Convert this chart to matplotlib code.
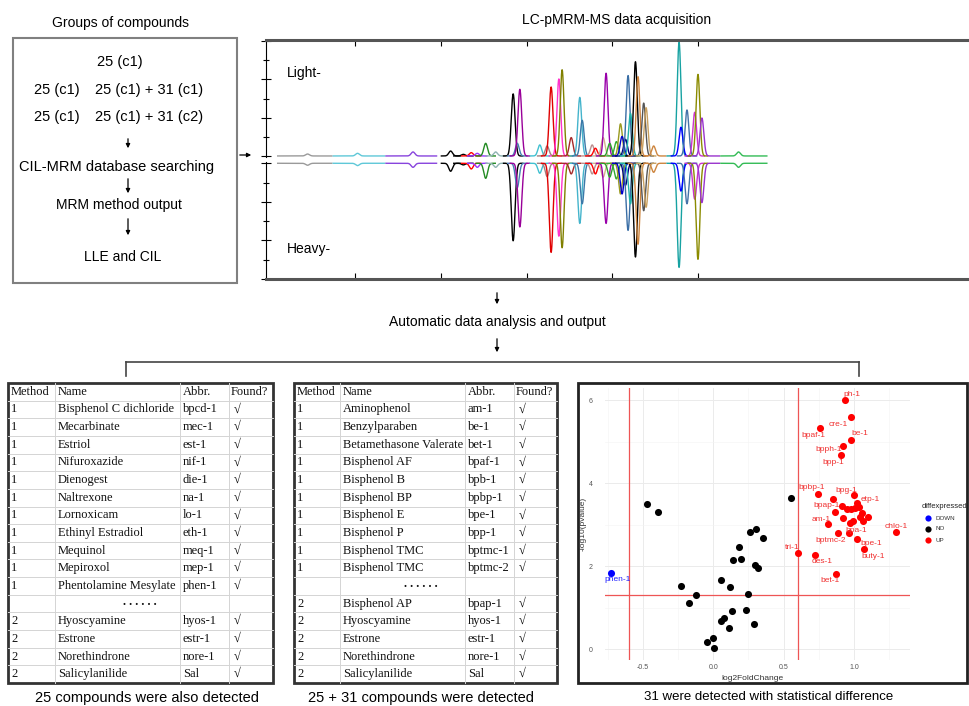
import numpy as np
import matplotlib.pyplot as plt
from matplotlib.patches import Rectangle
from matplotlib.transforms import Bbox, TransformedBbox

W, H = 969, 706

# ---- chromatogram peaks (retention time, light / heavy height) ----
peak_rt = [2.25, 5.16, 8.39, 10.58, 11.32, 11.78, 12.13, 12.62, 13.20, 14.22, 14.46, 14.61,
           15.77, 16.20, 16.43, 16.88, 17.07, 17.60, 18.10, 18.24, 18.82, 19.01, 19.46, 19.63,
           19.84, 20.23, 20.47, 20.56, 20.76, 20.91, 21.05, 21.34, 21.49, 21.82, 21.96, 22.40,
           23.88, 23.99, 24.34, 24.79, 24.98, 25.21, 27.34]
light_h = [0.017, 0.023, 0.035, 0.043, 0.014, 0.029, 0.023, 0.11, 0.035, 0.54, 0.11, 0.58,
           0.096, 0.087, 0.60, 0.67, 0.75, 0.16, 0.51, 0.31, 0.096, 0.067, 0.16, 0.72,
           0.11, 0.125, 0.28, 0.17, 0.145, 0.70, 0.37, 0.82, 0.69, 0.46, 0.42, 0.087,
           0.99, 0.25, 0.40, 0.38, 0.71, 0.33, 0.035]
heavy_h = [0.017, 0.02, 0.035, 0.069, 0.014, 0.049, 0.035, 0.13, 0.035, 0.67, 0.21, 0.55,
           0.086, 0.115, 0.77, 0.63, 0.73, 0.092, 0.52, 0.35, 0.092, 0.092, 0.12, 0.52,
           0.12, 0.135, 0.265, 0.265, 0.19, 0.58, 0.35, 0.81, 0.70, 0.41, 0.38, 0.078,
           0.90, 0.24, 0.35, 0.31, 0.83, 0.34, 0.035]
peak_col = ["#9a9a9a", "#5fc8d8", "#8844dd", "black", "black", "red", "#9933ff", "#228b22",
            "#8fb3b3", "black", "#4682b4", "#990099", "#40c0d0", "#a08080", "#e00000", "#ff33cc",
            "#808000", "#a52a2a", "#44b4cc", "#3a78a8", "#bc8f8f", "red", "#d2b48c", "#9900aa",
            "#2ca02c", "#33aa33", "#9a9a20", "#0000cc", "#000080", "#3a6ea5", "#20b2aa", "black",
            "#cd853f", "#555555", "#c8a060", "#cd853f", "#17a2a2", "#0000ff", "#4472a8", "#cc33cc",
            "#8b8b00", "#9933cc", "#33bb55"]
rt_start, rt_end = 0.47, 29.03

# ---- tables ----
header = ["Method", "Name", "Abbr.", "Found?"]
t1_method = ["1"] * 11 + [""] + ["2"] * 4
t1_names = ["Bisphenol C dichloride", "Mecarbinate", "Estriol", "Nifuroxazide", "Dienogest",
            "Naltrexone", "Lornoxicam", "Ethinyl Estradiol", "Mequinol", "Mepiroxol",
            "Phentolamine Mesylate", "", "Hyoscyamine", "Estrone", "Norethindrone", "Salicylanilide"]
t1_abbr = ["bpcd-1", "mec-1", "est-1", "nif-1", "die-1", "na-1", "lo-1", "eth-1", "meq-1",
           "mep-1", "phen-1", "", "hyos-1", "estr-1", "nore-1", "Sal"]
t2_method = ["1"] * 10 + [""] + ["2"] * 5
t2_names = ["Aminophenol", "Benzylparaben", "Betamethasone Valerate", "Bisphenol AF", "Bisphenol B",
            "Bisphenol BP", "Bisphenol E", "Bisphenol P", "Bisphenol TMC", "Bisphenol TMC", "",
            "Bisphenol AP", "Hyoscyamine", "Estrone", "Norethindrone", "Salicylanilide"]
t2_abbr = ["am-1", "be-1", "bet-1", "bpaf-1", "bpb-1", "bpbp-1", "bpe-1", "bpp-1", "bptmc-1",
           "bptmc-2", "", "bpap-1", "hyos-1", "estr-1", "nore-1", "Sal"]

# ---- volcano plot ----
no_fc = [-0.47, -0.39, -0.23, -0.12, -0.17, 0.055, 0.116, 0.14, 0.18, 0.20, 0.263, 0.30, 0.355,
         0.296, 0.32, 0.246, 0.55, 0.073, 0.055, 0.133, 0.111, 0.235, 0.287, -0.045, -0.002, 0.002]
no_p = [3.49, 3.30, 1.51, 1.29, 1.10, 1.67, 1.49, 2.14, 2.45, 2.18, 2.81, 2.88, 2.67,
        2.02, 1.96, 1.33, 3.65, 0.755, 0.68, 0.91, 0.50, 0.93, 0.61, 0.17, 0.26, 0.03]
down_fc = [-0.73]
down_p = [1.84]
down_lab = ["phen-1"]
up_fc = [0.938, 0.976, 0.758, 0.976, 0.924, 0.905, 0.746, 1.002, 0.853, 1.023, 0.913,
         0.948, 0.977, 1.007, 1.038, 0.865, 1.057, 1.043, 1.102, 1.066, 0.924, 0.972, 0.995,
         0.815, 0.967, 0.888, 1.019, 1.071, 1.30, 0.60, 0.723, 0.87]
up_p = [6.0, 5.58, 5.32, 5.04, 4.90, 4.67, 3.73, 3.70, 3.61, 3.53, 3.45,
        3.37, 3.37, 3.39, 3.43, 3.29, 3.27, 3.17, 3.19, 3.09, 3.16, 3.04, 3.09,
        3.01, 2.80, 2.79, 2.65, 2.40, 2.81, 2.31, 2.27, 1.81]
up_lab = ["ph-1", "cre-1", "bpaf-1", "be-1", "bpph-1", "bpp-1", "bpbp-1", "bpg-1", "", "etp-1", "bpap-1",
          "", "", "", "", "", "", "", "", "", "", "", "",
          "am-1", "bpa-1", "bptmc-2", "bpe-1", "buty-1", "chlo-1", "tri-1", "des-1", "bet-1"]
# label offsets in pixels (right, down) so the text sits like the repelled labels
lab_off = {"ph-1": (7, -6), "cre-1": (-12, 7), "bpaf-1": (-7, 7), "be-1": (9, -6),
           "bpph-1": (-15, 4), "bpp-1": (-7, 7), "bpbp-1": (-7, -7), "bpg-1": (-8, -5),
           "etp-1": (13, -3), "bpap-1": (-15, 0), "am-1": (-7, -5), "bpa-1": (7, -2),
           "bptmc-2": (-8, 7), "bpe-1": (15, 4), "buty-1": (9, 7), "chlo-1": (0, -6),
           "tri-1": (-6, -6), "des-1": (7, 7), "bet-1": (-6, 7), "phen-1": (7, 7)}

plt.rcParams['font.family'] = ['Liberation Sans', 'DejaVu Sans']


def px_rect(x0, y0, x1, y1):
    return [x0 / W, 1 - y1 / H, (x1 - x0) / W, (y1 - y0) / H]


fig = plt.figure(figsize=(W / 100, H / 100), dpi=100)
ov = fig.add_axes([0, 0, 1, 1])
ov.set_xlim(0, W)
ov.set_ylim(H, 0)
ov.axis('off')


def arrow_down(x, y0, y1):
    ov.annotate("", xy=(x, y1), xytext=(x, y0),
                arrowprops=dict(arrowstyle="-|>", color="black", lw=0.9, mutation_scale=6))


# ---- top left: groups of compounds ----
ov.text(121, 23, "Groups of compounds", ha="center", va="center", fontsize=10)
ov.add_patch(Rectangle((13, 38), 224, 245, fill=False, ec="#808080", lw=1.5))
ov.text(120, 62, "25 (c1)", ha="center", va="center", fontsize=10.5)
ov.text(57, 90, "25 (c1)", ha="center", va="center", fontsize=10.5)
ov.text(149, 90, "25 (c1) + 31 (c1)", ha="center", va="center", fontsize=10.5)
ov.text(57, 117, "25 (c1)", ha="center", va="center", fontsize=10.5)
ov.text(149, 117, "25 (c1) + 31 (c2)", ha="center", va="center", fontsize=10.5)
arrow_down(128, 136, 151)
ov.text(117, 167, "CIL-MRM database searching", ha="center", va="center", fontsize=10.5)
arrow_down(128, 176, 196)
ov.text(119, 205, "MRM method output", ha="center", va="center", fontsize=10)
arrow_down(128, 216, 238)
ov.text(123, 257, "LLE and CIL", ha="center", va="center", fontsize=10)
ov.annotate("", xy=(254, 155), xytext=(237, 155),
            arrowprops=dict(arrowstyle="-|>", color="black", lw=0.9, mutation_scale=6))

# ---- chromatogram ----
ov.text(617, 20, "LC-pMRM-MS data acquisition", ha="center", va="center", fontsize=10)
ax_l = fig.add_axes(px_rect(266, 40, 969, 157))
ax_h = fig.add_axes(px_rect(266, 162, 969, 279))
edges = [rt_start] + [(a + b) / 2 for a, b in zip(peak_rt[:-1], peak_rt[1:])] + [rt_end]
for i, rt in enumerate(peak_rt):
    lo = max(rt_start, min(edges[i], rt - 0.6))
    hi = min(rt_end, max(edges[i + 1], rt + 0.6))
    if i == 2:
        hi = 9.8
    if i == 3:
        lo = 10.0
    x = np.linspace(lo, hi, 300)
    g = np.exp(-0.5 * ((x - rt) / 0.11) ** 2)
    ax_l.plot(x, light_h[i] * g, color=peak_col[i], lw=1.0, solid_capstyle="butt")
    ax_h.plot(x, -heavy_h[i] * g, color=peak_col[i], lw=1.0, solid_capstyle="butt")

for ax in (ax_l, ax_h):
    ax.set_facecolor("none")
    ax.set_xlim(-0.17, 40.76)
    ax.spines["right"].set_visible(False)
    ax.spines["left"].set_linewidth(0.8)
    ax.set_xticks([5, 10, 15, 20, 25])
    ax.tick_params(axis="x", direction="in", length=4, width=0.8, labelbottom=False, labeltop=False)
    ax.tick_params(axis="y", which="major", direction="inout", length=7, width=0.8, labelleft=False)
    ax.tick_params(axis="y", which="minor", direction="inout", length=4, width=0.8)

ax_l.set_ylim(-0.009, 1.009)
ax_l.spines["bottom"].set_visible(False)
ax_l.spines["top"].set_linewidth(2.2)
ax_l.spines["top"].set_color("#555555")
ax_l.xaxis.tick_top()
ax_l.set_yticks([0, 1 / 3, 2 / 3, 1])
ax_l.set_yticks([1 / 6, 0.5, 5 / 6], minor=True)
ax_l.text(0.03, 0.72, "Light-", transform=ax_l.transAxes, fontsize=10, va="center")

ax_h.set_ylim(-1.0, 0.011)
ax_h.spines["top"].set_visible(False)
ax_h.spines["bottom"].set_linewidth(2.2)
ax_h.spines["bottom"].set_color("#555555")
ax_h.set_yticks([0, -1 / 3, -2 / 3, -1])
ax_h.set_yticks([-1 / 6, -0.5, -5 / 6], minor=True)
ax_h.text(0.03, 0.26, "Heavy-", transform=ax_h.transAxes, fontsize=10, va="center")

# ---- middle flow ----
arrow_down(497, 290, 307)
ov.text(497, 322, "Automatic data analysis and output", ha="center", va="center", fontsize=10)
arrow_down(497, 336, 355)
ov.plot([126, 859], [362, 362], color="#444444", lw=1.2)
ov.plot([126, 126], [362, 376], color="#444444", lw=1.2)
ov.plot([859, 859], [362, 376], color="#444444", lw=1.2)


# ---- tables ----
def draw_table(x0, x1, cols, methods, names, abbrs, dots_x):
    y0, y1 = 383, 683
    n = len(names) + 1
    rh = (y1 - y0) / n
    for k in range(1, n):
        ov.plot([x0, x1], [y0 + k * rh] * 2, color="#d4d4d4", lw=0.7)
    for c in cols:
        ov.plot([c, c], [y0, y1], color="#d4d4d4", lw=0.7)
    ov.add_patch(Rectangle((x0, y0), x1 - x0, y1 - y0, fill=False, ec="#333333", lw=2))
    xs = [x0 + 3, cols[0] + 3, cols[1] + 3, cols[2] + 2]
    tf = dict(family="Liberation Serif", fontsize=9, va="center", color="#111111")
    for j, h in enumerate(header):
        ov.text(xs[j], y0 + rh / 2, h, **tf)
    clip = TransformedBbox(Bbox.from_extents(cols[0], 0, cols[1] - 1, H), ov.transData)
    for r in range(len(names)):
        yc = y0 + (r + 1.5) * rh
        if names[r] == "":
            ov.text(dots_x, yc - 2, ". . . . . .", ha="center", fontweight="bold", **tf)
            continue
        ov.text(xs[0], yc, methods[r], **tf)
        t = ov.text(xs[1], yc, names[r], **tf)
        t.set_clip_box(clip)
        ov.text(xs[2], yc, abbrs[r], **tf)
        ov.text(cols[2] + 8, yc, "√", ha="center", fontweight="bold", **tf)


draw_table(8, 273, [55, 180, 229], t1_method, t1_names, t1_abbr, 140)
draw_table(294, 557, [340, 465, 514], t2_method, t2_names, t2_abbr, 421)
ov.text(147, 698, "25 compounds were also detected", ha="center", va="center", fontsize=10.5)
ov.text(421, 698, "25 + 31 compounds were detected", ha="center", va="center", fontsize=10.5)

# ---- volcano plot ----
ov.add_patch(Rectangle((578, 383), 389, 300, fill=False, ec="#222222", lw=2))
ax_v = fig.add_axes(px_rect(605, 388, 910, 660))
ax_v.set_facecolor("none")
ax_v.set_xlim(-0.77, 1.398)
ax_v.set_ylim(-0.265, 6.29)
for s in ax_v.spines.values():
    s.set_visible(False)
ax_v.set_xticks([-0.5, 0.0, 0.5, 1.0])
ax_v.set_xticklabels(["-0.5", "0.0", "0.5", "1.0"])
ax_v.set_xticks([-0.75, -0.25, 0.25, 0.75, 1.25], minor=True)
ax_v.set_yticks([0, 2, 4, 6])
ax_v.set_yticks([1, 3, 5], minor=True)
ax_v.grid(which="major", color="#ebebeb", lw=0.7)
ax_v.grid(which="minor", color="#f3f3f3", lw=0.4)
ax_v.set_axisbelow(True)
ax_v.tick_params(which="both", length=0, labelsize=5, labelcolor="#555555")
ax_v.tick_params(axis="x", pad=3)
ax_v.tick_params(axis="y", pad=9)
ax_v.set_xlabel("log2FoldChange", fontsize=6, color="#333333")
ax_v.xaxis.set_label_coords(0.485, -0.055)
ax_v.set_ylabel("-log10(pvalue)", fontsize=6, color="#333333")
ax_v.yaxis.set_label_coords(-0.059, 0.5)

ax_v.axvline(-0.6, color="#ee5555", lw=0.9)
ax_v.axvline(0.6, color="#ee5555", lw=0.9)
ax_v.axhline(1.3, color="#ee5555", lw=0.9)

ax_v.scatter(no_fc, no_p, s=26, color="black", zorder=3, linewidths=0)
ax_v.scatter(down_fc, down_p, s=26, color="#0000ff", zorder=3, linewidths=0)
ax_v.scatter(up_fc, up_p, s=26, color="#ff0000", zorder=3, linewidths=0)
for fx, fy, lab, col in list(zip(up_fc, up_p, up_lab, ["#f03030"] * len(up_lab))) + \
        list(zip(down_fc, down_p, down_lab, ["#2020ff"])):
    if lab == "":
        continue
    dx, dy = lab_off[lab]
    ax_v.annotate(lab, (fx, fy), xytext=(dx, -dy), textcoords="offset pixels",
                  ha="center", va="center", fontsize=6, color=col, zorder=4)

# legend
ov.text(922, 506, "diffexpressed", fontsize=5.5, va="center", color="#222222")
for yy, cc, lab in [(518, "#0000ff", "DOWN"), (529, "black", "NO"), (540, "#ff0000", "UP")]:
    ov.scatter([928], [yy], s=20, color=cc, linewidths=0)
    ov.text(936, yy, lab, fontsize=4.5, va="center", color="#333333")
ov.text(769, 697, "31 were detected with statistical difference", ha="center", va="center", fontsize=9.5)

fig.savefig("out.png", dpi=100)
